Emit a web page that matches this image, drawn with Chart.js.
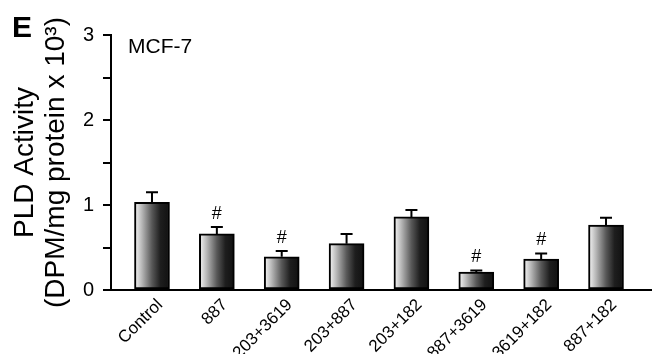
<!DOCTYPE html>
<html>
<head>
<meta charset="utf-8">
<script src="https://cdn.jsdelivr.net/npm/chart.js@4"></script>
<style>
  body { margin: 0; background: #fff; }
  #wrap { width: 652px; height: 354px; }
</style>
</head>
<body>
<div id="wrap"><canvas id="chartPld" width="652" height="354"></canvas></div>
<script>
// Panel E - PLD activity in MCF-7 cells

const treatments = ['Control', '887', '203+3619', '203+887', '203+182', '887+3619', '3619+182', '887+182'];
const pldActivity = [1.03, 0.66, 0.39, 0.545, 0.86, 0.21, 0.365, 0.765];
const pldSem = [0.12, 0.08, 0.07, 0.115, 0.08, 0.02, 0.065, 0.085];
const signif = ['', '#', '#', '', '', '#', '#', ''];
const yTicks = [0, 1, 2, 3];

const FONT = '"Liberation Sans", Arial, sans-serif';

function barGradient(ctx) {
    const chart = ctx.chart;
    const xs = chart.scales.x;
    if (!xs || ctx.dataIndex === undefined) return '#555';
    const cx = xs.getPixelForValue(ctx.dataIndex);
    if (!isFinite(cx)) return '#555';
    const g = chart.ctx.createLinearGradient(cx - 17, 0, cx + 17, 0);
    g.addColorStop(0, '#f4f4f4');
    g.addColorStop(0.2, '#b8b8b8');
    g.addColorStop(0.5, '#585858');
    g.addColorStop(0.75, '#1e1e1e');
    g.addColorStop(1, '#111');
    return g;
}

// error bars (upper only), # marks and panel texts
const extras = {
    id: 'extras',
    afterDatasetsDraw(chart) {
        const c = chart.ctx;
        const ys = chart.scales.y;
        const meta = chart.getDatasetMeta(0);
        c.save();
        c.strokeStyle = '#000';
        c.lineWidth = 2;
        c.fillStyle = '#000';
        meta.data.forEach((bar, i) => {
            const top = ys.getPixelForValue(pldActivity[i] + pldSem[i]);
            const base = ys.getPixelForValue(pldActivity[i]);
            c.beginPath();
            c.moveTo(bar.x, base);
            c.lineTo(bar.x, top);
            c.moveTo(bar.x - 6, top);
            c.lineTo(bar.x + 6, top);
            c.stroke();
            if (signif[i]) {
                c.font = '18px ' + FONT;
                c.textAlign = 'center';
                c.textBaseline = 'middle';
                c.fillText(signif[i], bar.x, top - 13);
            }
        });
        c.textAlign = 'left';
        c.textBaseline = 'alphabetic';
        c.font = 'bold 30px ' + FONT;
        c.fillText('E', 12, 37);
        c.font = '21px ' + FONT;
        c.fillText('MCF-7', 128, 53);
        c.restore();
    }
};

new Chart(document.getElementById('chartPld'), {
    type: 'bar',
    data: {
        datasets: [{
            data: pldActivity.map((v, i) => ({ x: i, y: v })),
            backgroundColor: barGradient,
            borderColor: '#000',
            borderWidth: 2,
            borderSkipped: false,
            barThickness: 35,
        }]
    },
    options: {
        responsive: false,
        animation: false,
        layout: { padding: { top: 35, left: 0, right: 0, bottom: 0 } },
        plugins: { legend: { display: false }, tooltip: { enabled: false } },
        scales: {
            x: {
                type: 'linear',
                offset: false,
                min: -0.632,
                max: 7.709,
                afterBuildTicks: s => { s.ticks = treatments.map((_, i) => ({ value: i })); },
                afterFit: s => { s.height = 64; },
                grid: { display: false, drawTicks: false, offset: false },
                border: { color: '#000', width: 2 },
                ticks: {
                    autoSkip: false,
                    minRotation: 45,
                    maxRotation: 45,
                    padding: 5,
                    labelOffset: 8,
                    color: '#000',
                    font: { family: FONT, size: 17 },
                    callback: v => treatments[v] ?? '',
                }
            },
            y: {
                min: 0,
                max: 3,
                afterFit: s => { s.width = 111; },
                grid: { drawOnChartArea: false, color: '#000', lineWidth: 2, tickLength: 8 },
                border: { color: '#000', width: 2 },
                ticks: {
                    stepSize: 0.5,
                    padding: 9,
                    color: '#000',
                    font: { family: FONT, size: 20 },
                    callback: v => yTicks.includes(v) ? v : '',
                },
                title: {
                    display: true,
                    text: ['PLD Activity', '(DPM/mg protein x 10\u00b3)'],
                    color: '#000',
                    font: { family: FONT, size: 28, lineHeight: 1.1 },
                    padding: { top: 10, bottom: 0 },
                }
            }
        }
    },
    plugins: [extras]
});
</script>
</body>
</html>
